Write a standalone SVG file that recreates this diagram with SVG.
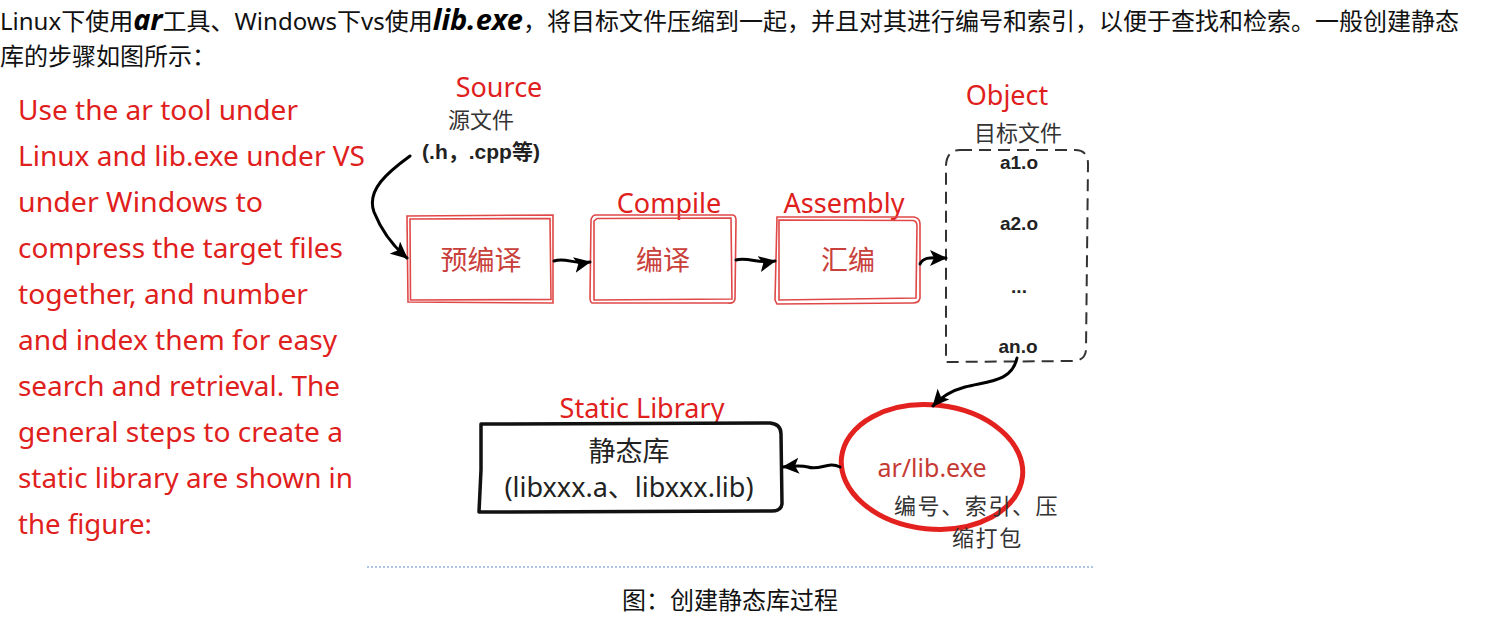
<svg xmlns="http://www.w3.org/2000/svg" width="1486" height="630" viewBox="0 0 1486 630">
<style>
.top{font-family:"Noto Sans","Noto Sans CJK SC",sans-serif;font-size:24px;fill:#111}
.big{font-family:"Noto Sans","Noto Sans CJK SC",sans-serif;font-weight:bold;font-style:italic;font-size:29px;fill:#000}
.para{font-family:"Noto Sans","Noto Sans CJK SC",sans-serif;font-size:26.5px;fill:#e0201c}
.lbl{font-family:"Noto Sans","Noto Sans CJK SC",sans-serif;font-size:27px;fill:#e0201c}
.cn{font-family:"Noto Sans CJK SC",sans-serif;font-size:22px;fill:#333}
.cn24{font-family:"Noto Sans CJK SC",sans-serif;font-size:22px;letter-spacing:1.6px;fill:#333}
.code{font-family:"Liberation Sans","Noto Sans CJK SC",sans-serif;font-weight:bold;font-size:19px;fill:#222}
.src{font-family:"Liberation Sans","Noto Sans CJK SC",sans-serif;font-weight:bold;font-size:21px;fill:#222}
.boxtxt{font-family:"Noto Sans CJK SC",sans-serif;font-size:27px;fill:#c9403a}
.sk{fill:none;stroke:#e04848;stroke-width:1.6}
.conn{fill:none;stroke:#000;stroke-width:3;stroke-linecap:round}
.libt{font-family:"Noto Sans","Noto Sans CJK SC",sans-serif;font-size:27px;fill:#222}
.cap{font-family:"Noto Sans CJK SC",sans-serif;font-size:24px;fill:#111}
</style>
<defs>
<marker id="ah" markerUnits="userSpaceOnUse" markerWidth="18" markerHeight="16" refX="16" refY="8" orient="auto">
<path d="M0,0 L17,8 L0,16 L4,8 z" fill="#000"/>
</marker>
</defs>
<rect width="1486" height="630" fill="#fff"/>

<g id="intro">
<text x="0" y="30" class="top">Linux下使用<tspan class="big">ar</tspan>工具、Windows下vs使用<tspan class="big">lib.exe</tspan>，将目标文件压缩到一起，并且对其进行编号和索引，以便于查找和检索。一般创建静态</text>
<text x="0" y="65" class="top">库的步骤如图所示：</text>
</g>

<g id="paragraph" class="para">
<text x="18" y="120" textLength="280" lengthAdjust="spacingAndGlyphs">Use the ar tool under</text>
<text x="18" y="166" textLength="347" lengthAdjust="spacingAndGlyphs">Linux and lib.exe under VS</text>
<text x="18" y="212" textLength="245" lengthAdjust="spacingAndGlyphs">under Windows to</text>
<text x="18" y="258" textLength="325" lengthAdjust="spacingAndGlyphs">compress the target files</text>
<text x="18" y="304" textLength="290" lengthAdjust="spacingAndGlyphs">together, and number</text>
<text x="18" y="350" textLength="319" lengthAdjust="spacingAndGlyphs">and index them for easy</text>
<text x="18" y="396" textLength="322" lengthAdjust="spacingAndGlyphs">search and retrieval. The</text>
<text x="18" y="442" textLength="325" lengthAdjust="spacingAndGlyphs">general steps to create a</text>
<text x="18" y="488" textLength="335" lengthAdjust="spacingAndGlyphs">static library are shown in</text>
<text x="18" y="534" textLength="134" lengthAdjust="spacingAndGlyphs">the figure:</text>
</g>

<g id="source">
<text x="499" y="97" class="lbl" text-anchor="middle">Source</text>
<text x="481" y="128" class="cn" text-anchor="middle">源文件</text>
<text x="481" y="159" class="src" text-anchor="middle">(.h，.cpp等)</text>
</g>

<g id="precompile">
<path class="sk" d="M407,216 L553,215 L553,303 L408,302 Z"/>
<path class="sk" d="M410,219 L550,218.5 L551,299.5 L410.5,300 Z"/>
<text x="481" y="270" class="boxtxt" text-anchor="middle">预编译</text>
</g>

<g id="compile">
<text x="669" y="213" class="lbl" text-anchor="middle">Compile</text>
<path class="sk" d="M596,215 L733,215 Q736,216 736,220 L735,299 Q734,304 728,303 L592,303 Q590,302 590,297 L591,220 Q592,215 596,215 Z"/>
<path class="sk" d="M597,218.5 L731,218 L732,299 L594,300 L594,221 Z"/>
<text x="663" y="270" class="boxtxt" text-anchor="middle">编译</text>
</g>

<g id="assembly">
<text x="844" y="213" class="lbl" text-anchor="middle">Assembly</text>
<path class="sk" d="M777,217 L914,217 Q920,218 920,224 L920,298 Q919,303 913,303 L777,304 L775,300 Z"/>
<path class="sk" d="M779,220 L913,220.5 Q917,221 917,226 L916,298 L779,300 Z"/>
<text x="848" y="270" class="boxtxt" text-anchor="middle">汇编</text>
</g>

<g id="object">
<text x="1007" y="105" class="lbl" text-anchor="middle">Object</text>
<text x="1018" y="141" class="cn" text-anchor="middle">目标文件</text>
<path d="M960,150 L1075,150 Q1088,150 1088,164 L1086,350 Q1085,361 1072,361 L946,362 L946,165 Q947,150 960,150 Z" fill="none" stroke="#333" stroke-width="2" stroke-dasharray="12,7"/>
<text x="1019" y="169" class="code" text-anchor="middle">a1.o</text>
<text x="1019" y="230" class="code" text-anchor="middle">a2.o</text>
<text x="1019" y="293" class="code" text-anchor="middle">...</text>
<text x="1018" y="353" class="code" text-anchor="middle">an.o</text>
</g>

<g id="arlib">
<ellipse cx="932" cy="467" rx="91" ry="62" fill="none" stroke="#e3211e" stroke-width="5" transform="rotate(6 932 467)"/>
<text x="932" y="477" font-family="Noto Sans, sans-serif" font-size="25" fill="#c53a33" text-anchor="middle">ar/lib.exe</text>
<text x="894" y="514" class="cn24">编号、索引、压</text>
<text x="952" y="546" class="cn24">缩打包</text>
</g>

<g id="staticlib">
<text x="642" y="418" class="lbl" text-anchor="middle">Static Library</text>
<path d="M481,424 L770,423 Q781,424 781,434 L782,504 Q781,511 772,511 L479,512 L481,470 Z" fill="none" stroke="#111" stroke-width="3.5" stroke-linejoin="round"/>
<text x="629" y="461" class="libt" text-anchor="middle">静态库</text>
<text x="629" y="497" class="libt" text-anchor="middle">(libxxx.a、libxxx.lib)</text>
</g>

<g id="connectors">
<path class="conn" d="M410,156 C388,172 366,190 374,212 C382,232 393,246 407,258" marker-end="url(#ah)"/>
<path class="conn" d="M554,261 C566,257 574,265 590,262" marker-end="url(#ah)"/>
<path class="conn" d="M736,260 C748,257 760,264 775,261" marker-end="url(#ah)"/>
<path class="conn" d="M920,264 C924,256 932,258 946,258" marker-end="url(#ah)"/>
<path class="conn" d="M1017,358 C1012,382 988,381 965,387 C950,391 941,397 933,406" marker-end="url(#ah)"/>
<path class="conn" d="M840,467 C828,461 820,471 808,467 C800,465 795,466 783,467" marker-end="url(#ah)"/>
</g>

<line x1="367" y1="567" x2="1093" y2="567" stroke="#5b8fc7" stroke-width="1" stroke-dasharray="2,2"/>
<text x="730" y="609" class="cap" text-anchor="middle">图：创建静态库过程</text>
</svg>
